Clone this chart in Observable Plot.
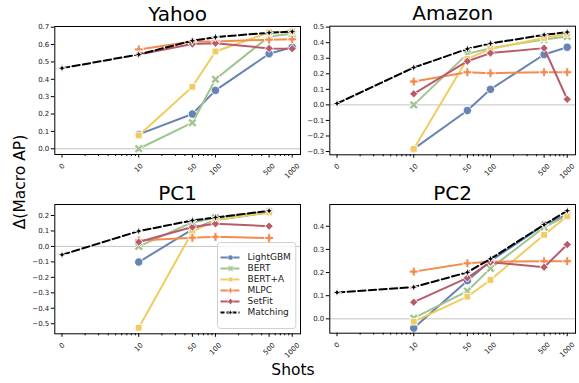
<!DOCTYPE html>
<html><head><meta charset="utf-8">
<script src="https://cdn.jsdelivr.net/npm/d3@7"></script>
<script src="https://cdn.jsdelivr.net/npm/@observablehq/plot@0.6"></script>
<style>
body{margin:0;background:#fff;}
#fig{position:relative;width:579px;height:383px;overflow:hidden;font-family:"DejaVu Sans",sans-serif;background:#fff;}
#fig svg{position:absolute;overflow:visible;background:none;}
.lab{position:absolute;font-family:"DejaVu Sans",sans-serif;color:#000;white-space:nowrap;}
</style></head>
<body><div id="fig"></div>
<script>
// ---------- data ----------
const shots = [0, 10, 50, 100, 500, 1000];
const shotLabels = ["0", "10", "50", "100", "500", "1000"];
const methods = ["LightGBM", "BERT", "BERT+A", "MLPC", "SetFit", "Matching"];
const colors = ["#6784b5", "#9fc48f", "#f0cc60", "#f28c4f", "#b85c6c", "#000000"];
const datasets = ["Yahoo", "Amazon", "PC1", "PC2"];

// rows follow `methods`, columns follow `shots`
const yahoo = [
  [null, 0.083, 0.200, 0.336, 0.547, 0.585],
  [null, 0.000, 0.150, 0.400, 0.647, 0.662],
  [null, 0.077, 0.357, 0.560, 0.670, 0.675],
  [null, 0.572, 0.618, 0.618, 0.628, 0.630],
  [null, 0.543, 0.603, 0.608, 0.578, 0.576],
  [0.464, 0.543, 0.622, 0.643, 0.668, 0.674]
];
const amazon = [
  [null, -0.283, -0.036, 0.100, 0.324, 0.371],
  [null, 0.000, 0.328, 0.365, 0.420, 0.440],
  [null, -0.283, 0.296, 0.360, 0.430, 0.457],
  [null, 0.150, 0.210, 0.204, 0.210, 0.210],
  [null, 0.071, 0.281, 0.333, 0.365, 0.036],
  [0.009, 0.240, 0.360, 0.395, 0.450, 0.468]
];
const pc1 = [
  [null, -0.101, 0.110, 0.170, 0.220, null],
  [null, 0.000, 0.155, 0.185, 0.225, null],
  [null, -0.526, 0.095, 0.170, 0.220, null],
  [null, 0.039, 0.056, 0.062, 0.054, null],
  [null, 0.028, 0.125, 0.146, 0.131, null],
  [-0.054, 0.099, 0.168, 0.187, 0.230, null]
];
const pc2 = [
  [null, -0.040, 0.165, 0.250, 0.406, 0.450],
  [null, 0.003, 0.120, 0.218, 0.396, 0.446],
  [null, -0.012, 0.096, 0.168, 0.363, 0.443],
  [null, 0.204, 0.240, 0.247, 0.249, 0.249],
  [null, 0.072, 0.177, 0.245, 0.223, 0.321],
  [0.114, 0.137, 0.201, 0.259, 0.407, 0.467]
];
const yTicksYahoo = [0.0, 0.1, 0.2, 0.3, 0.4, 0.5, 0.6, 0.7];
const yTicksAmazon = [-0.3, -0.2, -0.1, 0.0, 0.1, 0.2, 0.3, 0.4, 0.5];
const yTicksPC1 = [-0.5, -0.4, -0.3, -0.2, -0.1, 0.0, 0.1, 0.2];
const yTicksPC2 = [0.0, 0.1, 0.2, 0.3, 0.4];
const minorShots = [2, 3, 4, 5, 6, 7, 8, 9, 20, 30, 40, 60, 70, 80, 90, 200, 300, 400, 600, 700, 800, 900];

// ---------- helpers ----------
// symlog-like position (linear 0..10, log above)
const sl = v => v <= 10 ? v / 10 : 1 + Math.log10(v / 10);
const slMinor = v => v < 10 ? Math.log10(v) : 1 + Math.log10(v / 10);

function poly(ctx, pts) {
  ctx.moveTo(pts[0][0], pts[0][1]);
  for (let i = 1; i < pts.length; i++) ctx.lineTo(pts[i][0], pts[i][1]);
  ctx.closePath();
}
function plusPts(a, b, rot) {
  const p = [[-b,-a],[b,-a],[b,-b],[a,-b],[a,b],[b,b],[b,a],[-b,a],[-b,b],[-a,b],[-a,-b],[-b,-b]];
  const c = Math.cos(rot), s = Math.sin(rot);
  return p.map(([x, y]) => [x * c - y * s, x * s + y * c]);
}
const symX = {draw(ctx, size) { const r = Math.sqrt(size / Math.PI); poly(ctx, plusPts(r * 1.2, r * 0.38, Math.PI / 4)); }};
const symP = {draw(ctx, size) { const r = Math.sqrt(size / Math.PI); poly(ctx, plusPts(r * 1.05, r * 0.36, 0)); }};
const symSq = {draw(ctx, size) { const r = Math.sqrt(size / Math.PI) * 0.85; poly(ctx, [[-r,-r],[r,-r],[r,r],[-r,r]]); }};
const symD = {draw(ctx, size) { const r = Math.sqrt(size / Math.PI) * 1.15; poly(ctx, [[0,-r],[r,0],[0,r],[-r,0]]); }};
const symStar = {draw(ctx, size) { const r = Math.sqrt(size / Math.PI) * 1.1, q = r * 0.25;
  poly(ctx, [[0,-r],[q,-q],[r,0],[q,q],[0,r],[-q,q],[-r,0],[-q,-q]]); }};
const symbols = ["circle", symX, symSq, symP, symD, symStar];
const radii = [4.2, 4, 4, 4.2, 3.6, 4];

const fig = document.getElementById("fig");

function panel(title, values, yDomain, yTicks, box) {
  const marks = [];
  marks.push(Plot.ruleY([0], {stroke: "#c4c4c4", strokeWidth: 1}));
  methods.forEach((m, mi) => {
    const d = [];
    shots.forEach((s, si) => { const v = values[mi][si]; if (v != null) d.push({x: sl(s), y: v}); });
    marks.push(Plot.line(d, {x: "x", y: "y", stroke: colors[mi], strokeWidth: 2,
      strokeDasharray: mi === 5 ? "7.4,3.2" : null}));
    marks.push(Plot.dot(d, {x: "x", y: "y", r: radii[mi], symbol: symbols[mi], fill: colors[mi],
      stroke: "white", strokeWidth: 0.9}));
  });
  marks.push(Plot.frame({stroke: "black", strokeWidth: 1}));
  marks.push(Plot.axisY(yTicks, {tickSize: 3.5, tickPadding: 2, fontSize: 7, fill: "#222",
    tickFormat: d3.format(".1f"), label: null}));
  marks.push(Plot.axisX(shots.map(sl), {tickSize: 3.5, tickFormat: () => "", label: null}));
  marks.push(Plot.axisX(minorShots.map(slMinor), {tickSize: 2, tickFormat: () => "", label: null}));
  shotLabels.forEach((lab, i) => {
    const w = lab.length * 4.45, h = 8;
    const half = (w + h) * 0.7071 / 2;
    marks.push(Plot.text([lab], {x: () => sl(shots[i]), text: d => d, frameAnchor: "bottom",
      rotate: -45, textAnchor: "middle", lineAnchor: "middle", dy: 7.5 + half, fontSize: 7, fill: "#222"}));
  });
  marks.push(Plot.text([title], {frameAnchor: "top", dy: box.titleDy, lineAnchor: "bottom",
    fontSize: 20, text: d => d, fill: "#000"}));
  const svg = Plot.plot({
    width: box.w, height: box.h,
    marginLeft: box.ml, marginRight: box.mr, marginTop: box.mt, marginBottom: box.mb,
    x: {domain: [-0.094, 3.108], axis: null},
    y: {domain: yDomain, axis: null},
    style: {fontFamily: "DejaVu Sans", background: "none", overflow: "visible"},
    marks
  });
  svg.style.left = box.left + "px";
  svg.style.top = box.top + "px";
  fig.appendChild(svg);
}

panel(datasets[0], yahoo, [-0.033, 0.704], yTicksYahoo,
  {left: 0, top: 0, w: 305, h: 190, ml: 54.3, mr: 5, mt: 26, mb: 36, titleDy: -6});
panel(datasets[1], amazon, [-0.321, 0.506], yTicksAmazon,
  {left: 295, top: 0, w: 284, h: 190, ml: 34.3, mr: 4, mt: 25.7, mb: 35.7, titleDy: -6});
panel(datasets[2], pc1, [-0.565, 0.271], yTicksPC1,
  {left: 0, top: 180, w: 305, h: 203, ml: 54.3, mr: 5, mt: 24, mb: 49.7, titleDy: -5});
panel(datasets[3], pc2, [-0.062, 0.494], yTicksPC2,
  {left: 295, top: 180, w: 284, h: 203, ml: 34.3, mr: 4, mt: 24, mb: 50.3, titleDy: -5});

// ---------- legend (in PC1 panel) ----------
(function legend() {
  const W = 78.3, H = 86;
  const marks = [Plot.frame({fill: "white", fillOpacity: 0.8, stroke: "#d0d0d0", strokeWidth: 1, rx: 3})];
  methods.forEach((m, mi) => {
    marks.push(Plot.ruleY([m], {y: d => d, x1: 3.5, x2: 22.5, stroke: colors[mi], strokeWidth: 2,
      strokeDasharray: mi === 5 ? "4,2" : null}));
    marks.push(Plot.dot([m], {x: 13, y: d => d, r: 2.6, symbol: symbols[mi], fill: colors[mi],
      stroke: "white", strokeWidth: 0.5}));
  });
  marks.push(Plot.text(methods, {x: 30, y: d => d, text: d => d, textAnchor: "start", fontSize: 9, fill: "#222"}));
  const svg = Plot.plot({
    width: W, height: H, margin: 0,
    x: {type: "linear", domain: [0, W], range: [0, W], axis: null},
    y: {type: "point", domain: methods, range: [7.7, 77.7], axis: null},
    style: {fontFamily: "DejaVu Sans", background: "none", overflow: "visible"},
    marks
  });
  svg.style.left = "216.7px";
  svg.style.top = "242.3px";
  fig.appendChild(svg);
})();

// ---------- shared axis labels ----------
const xl = document.createElement("div");
xl.className = "lab"; xl.textContent = "Shots";
xl.style.cssText += "font-size:15.5px;left:293px;top:361px;transform:translateX(-50%);";
fig.appendChild(xl);
const yl = document.createElement("div");
yl.className = "lab"; yl.textContent = "Δ(Macro AP)";
yl.style.cssText += "font-size:15.5px;left:20px;top:182px;transform:translate(-50%,-50%) rotate(-90deg);";
fig.appendChild(yl);
</script>
</body></html>
